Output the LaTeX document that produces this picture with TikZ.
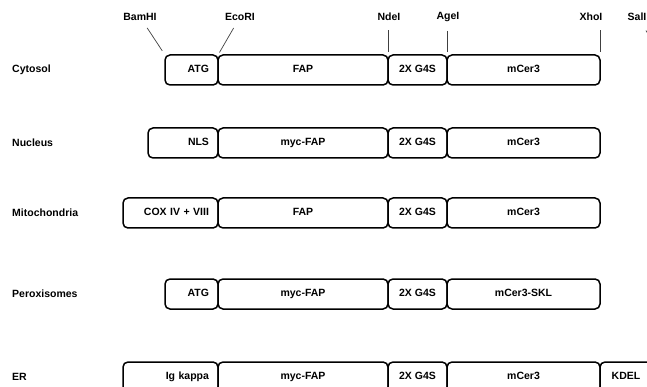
\documentclass[tikz,border=0pt]{standalone}
\usepackage{fontspec}
\setmainfont{Liberation Sans}
\usetikzlibrary{positioning}

\begin{document}
\begin{tikzpicture}[x=1pt,y=-1pt,
   seg/.style={draw,rounded corners=5pt,line width=1.5pt,outer sep=0pt,inner sep=0pt,
     minimum height=30pt,text height=7.5pt,text depth=2pt,
     font=\bfseries\fontsize{10.5}{12}\selectfont},
   lead/.style={seg,align=right,text width=#1,inner xsep=9pt},
   row/.style={anchor=west,inner sep=0pt,font=\bfseries\fontsize{10.5}{12}\selectfont},
   enz/.style={inner sep=2pt,font=\bfseries\fontsize{10.5}{12}\selectfont},
   cut/.style={line width=0.7pt,draw=black!75}]
  \useasboundingbox (0,0) rectangle (647,387);
  \clip (0,0) rectangle (647,387);
  % Cytosol
  \node[row] (cyto) at (12,70) {Cytosol};
  \node[seg,minimum width=170pt,anchor=west] (fap1) at (218,70) {FAP};
  \node[lead=35pt,left=0pt of fap1] (atg1) {ATG};
  \node[seg,minimum width=59pt,right=0pt of fap1] (gs1) {2X G4S};
  \node[seg,minimum width=153pt,right=0pt of gs1] (cer1) {mCer3};
  % Nucleus
  \node[row] (nuc) at (12,143) {Nucleus};
  \node[seg,minimum width=170pt,anchor=west] (fap2) at (218,143) {myc-FAP};
  \node[lead=52pt,left=0pt of fap2] (nls) {NLS};
  \node[seg,minimum width=59pt,right=0pt of fap2] (gs2) {2X G4S};
  \node[seg,minimum width=153pt,right=0pt of gs2] (cer2) {mCer3};
  % Mitochondria
  \node[row] (mito) at (12,213) {Mitochondria};
  \node[seg,minimum width=170pt,anchor=west] (fap3) at (218,213) {FAP};
  \node[lead=77pt,left=0pt of fap3] (cox) {COX IV + VIII};
  \node[seg,minimum width=59pt,right=0pt of fap3] (gs3) {2X G4S};
  \node[seg,minimum width=153pt,right=0pt of gs3] (cer3) {mCer3};
  % Peroxisomes
  \node[row] (perox) at (12,294) {Peroxisomes};
  \node[seg,minimum width=170pt,anchor=west] (fap4) at (218,294) {myc-FAP};
  \node[lead=35pt,left=0pt of fap4] (atg4) {ATG};
  \node[seg,minimum width=59pt,right=0pt of fap4] (gs4) {2X G4S};
  \node[seg,minimum width=153pt,right=0pt of gs4] (cer4) {mCer3-SKL};
  % ER
  \node[row] (er) at (12,377) {ER};
  \node[seg,minimum width=170pt,anchor=west] (fap5) at (218,377) {myc-FAP};
  \node[lead=77pt,left=0pt of fap5] (igk) {Ig kappa};
  \node[seg,minimum width=59pt,right=0pt of fap5] (gs5) {2X G4S};
  \node[seg,minimum width=153pt,right=0pt of gs5] (cer5) {mCer3};
  \node[seg,minimum width=52pt,right=0pt of cer5] (kdel) {KDEL};
  % restriction sites
  \node[enz] (bam) at (140,17) {BamHI};
  \node[enz] (eco) at (240,17) {EcoRI};
  \node[enz] (nde) at (389,17) {NdeI};
  \node[enz] (age) at (448,17) {AgeI};
  \node[enz] (xho) at (591,17) {XhoI};
  \node[enz] (sal) at (637,17) {SalI};
  \coordinate (salend) at (662,55);
  \draw[cut,shorten <=6pt,shorten >=5pt] (bam) -- (atg1.north west);
  \draw[cut,shorten <=6pt,shorten >=3pt] (eco) -- (atg1.north east);
  \draw[cut,shorten <=7pt,shorten >=3pt] (nde.south -| gs1.north west) -- (gs1.north west);
  \draw[cut,shorten <=7pt,shorten >=3pt] (age.south -| cer1.north west) -- (cer1.north west);
  \draw[cut,shorten <=7pt,shorten >=3pt] (xho.south -| cer1.north east) -- (cer1.north east);
  \draw[cut,shorten <=9pt] (sal) -- (salend);
\end{tikzpicture}
\end{document}
